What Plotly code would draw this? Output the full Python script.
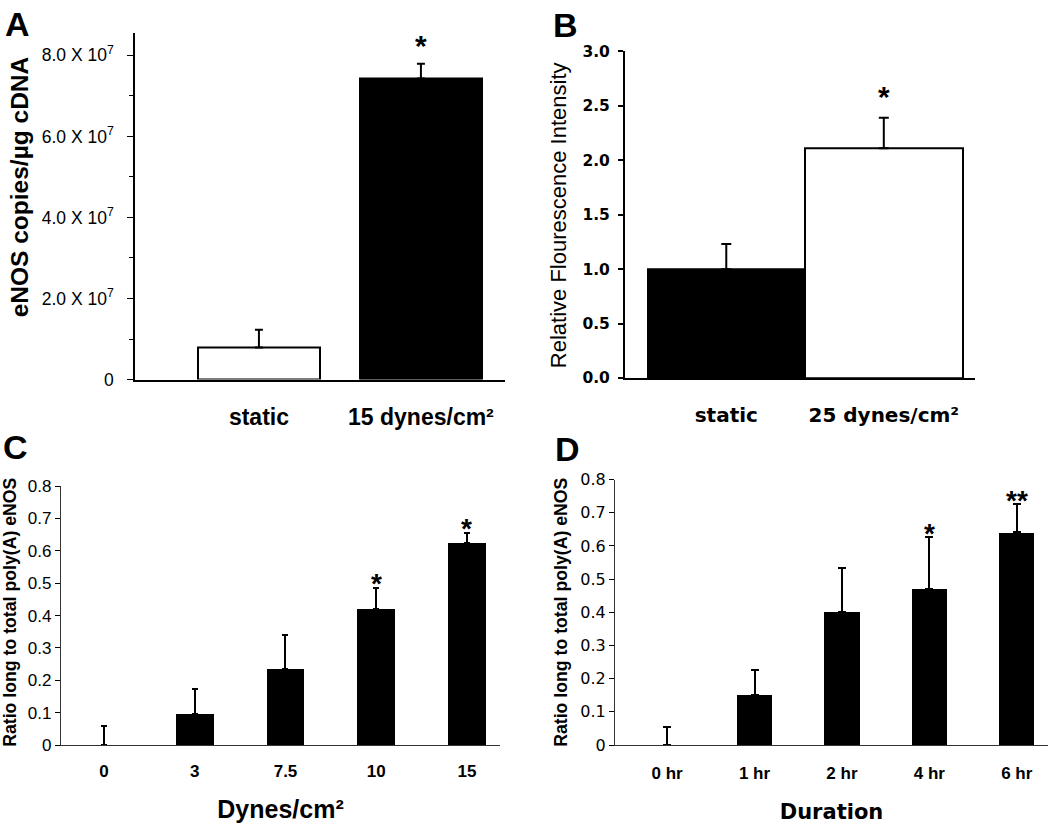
import plotly.graph_objects as go

# ---------------- Data ----------------
# Panel A
a_categories = ["static", "15 dynes/cm²"]
a_values = [7.9e6, 7.43e7]
a_errors = [4.4e6, 3.6e6]
a_fill = ["white", "black"]
a_sig = ["", "*"]
a_ytickvals = [0, 2e7, 4e7, 6e7, 8e7]
a_yticktext = ["0", "2.0 X 10<sup>7</sup>", "4.0 X 10<sup>7</sup>",
               "6.0 X 10<sup>7</sup>", "8.0 X 10<sup>7</sup>"]
a_minor_ticks = [1e7, 3e7, 5e7, 7e7]

# Panel B
b_categories = ["static", "25 dynes/cm²"]
b_values = [1.0, 2.11]
b_errors = [0.23, 0.28]
b_fill = ["black", "white"]
b_sig = ["", "*"]
b_ytickvals = [0.0, 0.5, 1.0, 1.5, 2.0, 2.5, 3.0]
b_yticktext = ["0.0", "0.5", "1.0", "1.5", "2.0", "2.5", "3.0"]

# Panel C
c_categories = ["0", "3", "7.5", "10", "15"]
c_values = [0.0, 0.095, 0.236, 0.421, 0.624]
c_errors = [0.060, 0.078, 0.104, 0.065, 0.032]
c_sig = ["", "", "", "*", "*"]

# Panel D
d_categories = ["0 hr", "1 hr", "2 hr", "4 hr", "6 hr"]
d_values = [0.0, 0.152, 0.402, 0.471, 0.641]
d_errors = [0.054, 0.074, 0.131, 0.157, 0.085]
d_sig = ["", "", "", "*", "**"]

cd_ytickvals = [0, 0.1, 0.2, 0.3, 0.4, 0.5, 0.6, 0.7, 0.8]
cd_yticktext = ["0", "0.1", "0.2", "0.3", "0.4", "0.5", "0.6", "0.7", "0.8"]

W, H = 1050, 828
ARIAL = "Liberation Sans, Arial, sans-serif"
DEJA = "DejaVu Sans, sans-serif"


def px_x(p):
    return p / W


def px_y(p):
    return 1 - p / H


fig = go.Figure()


def add_bars(cats, vals, errs, fill, xa, ya, width, line_w, cap_w):
    fig.add_trace(go.Bar(
        x=cats, y=vals, xaxis=xa, yaxis=ya, width=width,
        marker=dict(color=fill, line=dict(color="black", width=line_w)),
        error_y=dict(type="data", symmetric=False, array=errs,
                     arrayminus=[0] * len(errs), color="black",
                     thickness=2, width=cap_w),
        showlegend=False, hoverinfo="x+y",
    ))


add_bars(a_categories, a_values, a_errors, a_fill, "x", "y", 0.753, 2, 4)
add_bars(b_categories, b_values, b_errors, b_fill, "x2", "y2", 1.0, 2, 5)
add_bars(c_categories, c_values, c_errors, ["black"] * 5, "x3", "y3", 0.415, 0, 3)
add_bars(d_categories, d_values, d_errors, ["black"] * 5, "x4", "y4", 0.403, 0, 4)

common_x = dict(type="category", showgrid=False, zeroline=False, showline=True,
                linecolor="black", ticks="", fixedrange=True)
common_y = dict(showgrid=False, zeroline=False, showline=True, linecolor="black",
                ticks="outside", tickcolor="black", fixedrange=True)

fig.update_layout(
    width=W, height=H,
    margin=dict(l=0, r=0, t=0, b=0),
    paper_bgcolor="white", plot_bgcolor="white",
    showlegend=False,
    bargap=0,
    # Panel A
    xaxis=dict(common_x, domain=[px_x(135), px_x(505)], anchor="y",
               range=[-0.765, 1.519], linewidth=1.5,
               tickfont=dict(family=ARIAL, size=23, color="black", weight="bold"),
               ticklabelstandoff=16),
    yaxis=dict(common_y, domain=[px_y(379.3), px_y(25)], anchor="x",
               range=[0, 8.54e7], linewidth=1.5, ticklen=6, tickwidth=1.2,
               tickvals=a_ytickvals, ticktext=a_yticktext,
               tickfont=dict(family=ARIAL, size=17.5, color="black"),
               ticklabelstandoff=10,
               minor=dict(tickvals=a_minor_ticks, ticks="outside", ticklen=4,
                          tickcolor="black", tickwidth=1)),
    # Panel B
    xaxis2=dict(common_x, domain=[px_x(625), px_x(975)], anchor="y2",
                range=[-0.643, 1.579], linewidth=2,
                tickfont=dict(family=DEJA, size=20, color="black", weight="bold"),
                ticklabelstandoff=18),
    yaxis2=dict(common_y, domain=[px_y(377.7), px_y(43.3)], anchor="x2",
                range=[0, 3.0], linewidth=2, ticklen=5, tickwidth=2,
                tickvals=b_ytickvals, ticktext=b_yticktext,
                ticklabelstandoff=5,
                tickfont=dict(family=DEJA, size=15.5, color="black", weight="bold")),
    # Panel C
    xaxis3=dict(common_x, domain=[px_x(61), px_x(500)], anchor="y3",
                range=[-0.474, 4.364], linewidth=1.2, linecolor="#333",
                tickfont=dict(family=ARIAL, size=17, color="black", weight="bold"),
                ticklabelstandoff=10,
                title=dict(text="Dynes/cm²", standoff=20,
                           font=dict(family=ARIAL, size=25, color="black", weight="bold"))),
    yaxis3=dict(common_y, domain=[px_y(753.3), px_y(488.3)], anchor="x3",
                range=[0, 0.8], linewidth=1.2, linecolor="#333", ticklen=5, tickwidth=1,
                tickvals=cd_ytickvals, ticktext=cd_yticktext,
                tickfont=dict(family=ARIAL, size=17, color="black")),
    # Panel D
    xaxis4=dict(common_x, domain=[px_x(615), px_x(1048)], anchor="y4",
                range=[-0.596, 4.357], linewidth=1.2, linecolor="#333",
                tickfont=dict(family=ARIAL, size=17, color="black", weight="bold"),
                ticklabelstandoff=12,
                title=dict(text="Duration", standoff=22,
                           font=dict(family=DEJA, size=21, color="black", weight="bold"))),
    yaxis4=dict(common_y, domain=[px_y(753.3), px_y(481.7)], anchor="x4",
                range=[0, 0.8], linewidth=1.2, linecolor="#333", ticklen=5, tickwidth=1,
                tickvals=cd_ytickvals, ticktext=cd_yticktext,
                tickfont=dict(family=DEJA, size=16, color="black")),
)

annotations = []

# Panel letters
for letter, (cx, cy) in zip("ABCD", [(17.5, 15), (565, 16), (15, 448), (567.5, 450)]):
    annotations.append(dict(text=letter, xref="paper", yref="paper",
                            x=px_x(cx), y=px_y(cy), xanchor="center", yanchor="middle",
                            showarrow=False,
                            font=dict(family=ARIAL, size=34, color="black", weight="bold")))

# Y titles
ytitles = [
    ("eNOS copies/µg cDNA", 19, 182.5, 24.5, "bold"),
    ("Relative Flourescence Intensity", 558, 211, 22, "normal"),
    ("Ratio long to total poly(A) eNOS", 10, 618, 17.7, "bold"),
    ("Ratio long to total poly(A) eNOS", 561.5, 617.5, 17.7, "bold"),
]
for txt, cx, cy, size, weight in ytitles:
    annotations.append(dict(text=txt, xref="paper", yref="paper",
                            x=px_x(cx), y=px_y(cy), xanchor="center", yanchor="middle",
                            textangle=-90, showarrow=False,
                            font=dict(family=ARIAL, size=size, color="black", weight=weight)))

# Significance marks (x given as category index)
for cats, vals, errs, sig, xr, yr, size, shift in [
    (a_categories, a_values, a_errors, a_sig, "x", "y", 30, 0),
    (b_categories, b_values, b_errors, b_sig, "x2", "y2", 30, 3),
    (c_categories, c_values, c_errors, c_sig, "x3", "y3", 28, -13),
    (d_categories, d_values, d_errors, d_sig, "x4", "y4", 28, -14),
]:
    for i, (v, e, s) in enumerate(zip(vals, errs, sig)):
        if s:
            annotations.append(dict(text=s, xref=xr, yref=yr, x=i, y=v + e,
                                    xanchor="center", yanchor="bottom", yshift=shift,
                                    showarrow=False,
                                    font=dict(family=ARIAL, size=size, color="black",
                                              weight="bold")))

fig.update_layout(annotations=annotations)

fig.write_html(
    "out.html",
    config={"displayModeBar": False},
    post_script="document.body.style.margin='0';document.body.style.overflow='hidden';",
)
